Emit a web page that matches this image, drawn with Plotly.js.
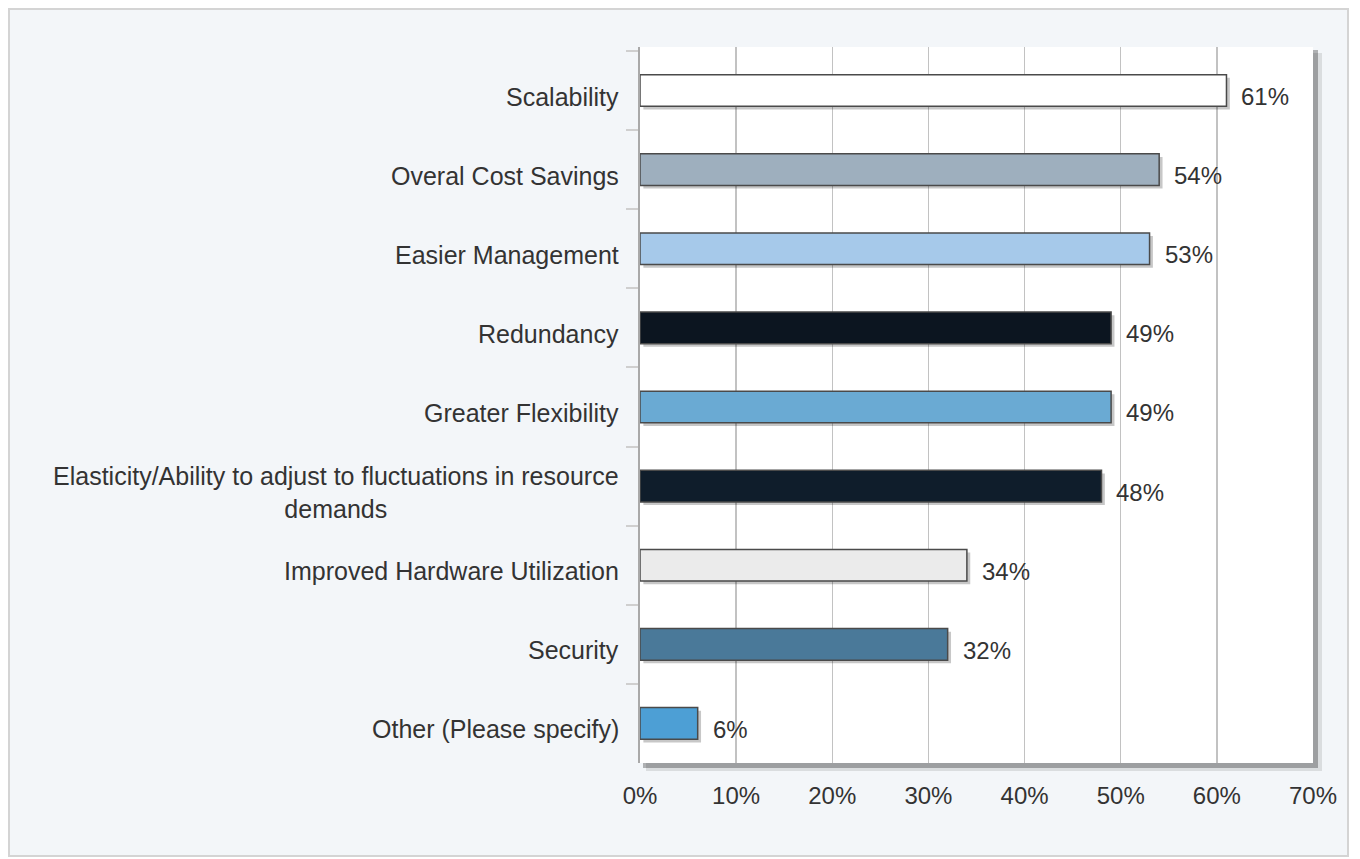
<!DOCTYPE html>
<html>
<head>
<meta charset="utf-8">
<script src="https://cdn.plot.ly/plotly-3.0.1.min.js"></script>
<style>
  html, body { margin: 0; padding: 0; background: #ffffff; }
  #chart { width: 1360px; height: 859px; }
</style>
</head>
<body>
<div id="chart"></div>
<script>
// ---- data ----
const categories = [
  "Scalability",
  "Overal Cost Savings",
  "Easier Management",
  "Redundancy",
  "Greater Flexibility",
  "Elasticity/Ability to adjust to fluctuations in resource<br>demands",
  "Improved Hardware Utilization",
  "Security",
  "Other (Please specify)"
];
const values = [61, 54, 53, 49, 49, 48, 34, 32, 6];
const xTickValues = [0, 10, 20, 30, 40, 50, 60, 70];
const xTickLabels = ["0%", "10%", "20%", "30%", "40%", "50%", "60%", "70%"];

// ---- styles ----
const barColors = [
  "#ffffff", "#9eafbe", "#a6c9ea", "#0c1520", "#6aaad3",
  "#0f1d2b", "#ebebeb", "#4a7999", "#4d9fd5"
];

const L = 640, R = 1313, T = 47, B = 763;
const px2x = p => (p - L) / (R - L);
const px2y = p => (B - p) / (B - T);

const textColor = "#333333";
const fontFam = "Liberation Sans, Arial, sans-serif";

const shadowTrace = {
  type: "bar", orientation: "h",
  y: categories, x: values, base: 0.35,
  width: 0.40, offset: -0.16,
  marker: { color: "rgba(0,0,0,0.22)", line: { width: 0 } },
  hoverinfo: "skip", showlegend: false
};
const barTrace = {
  type: "bar", orientation: "h",
  y: categories, x: values,
  width: 0.40,
  marker: { color: barColors, line: { color: "#4a4a4a", width: 1.5 } },
  hoverinfo: "x+y", showlegend: false
};

const annotations = [];
categories.forEach((c, i) => {
  annotations.push({
    xref: "paper", yref: "y", x: 0, y: c, xanchor: "right", yanchor: "middle",
    xshift: -19, yshift: -6, text: c, showarrow: false, align: "center",
    font: { family: fontFam, size: 25, color: textColor }
  });
  annotations.push({
    xref: "x", yref: "y", x: values[i], y: c, xanchor: "left", yanchor: "middle",
    xshift: 13, yshift: -6, text: values[i] + "%", showarrow: false,
    font: { family: fontFam, size: 24, color: textColor }
  });
});

const shapes = [
  { type: "rect", xref: "paper", yref: "paper", layer: "below",
    x0: px2x(9), x1: px2x(1348), y0: px2y(856), y1: px2y(9),
    fillcolor: "#f3f6f9", line: { color: "#d4d4d4", width: 2 } },
  { type: "rect", xref: "paper", yref: "paper", layer: "below",
    x0: px2x(646), x1: px2x(1322), y0: px2y(771), y1: px2y(53),
    fillcolor: "rgba(0,0,0,0.10)", line: { width: 0 } },
  { type: "rect", xref: "paper", yref: "paper", layer: "below",
    x0: px2x(643), x1: px2x(1318), y0: px2y(768), y1: px2y(50),
    fillcolor: "rgba(0,0,0,0.28)", line: { width: 0 } },
  { type: "rect", xref: "paper", yref: "paper", layer: "below",
    x0: 0, x1: 1, y0: 0, y1: 1,
    fillcolor: "#ffffff", line: { width: 0 } }
];

const layout = {
  width: 1360, height: 859,
  margin: { l: L, r: 1360 - R, t: T, b: 859 - B, pad: 0 },
  paper_bgcolor: "#ffffff",
  plot_bgcolor: "rgba(0,0,0,0)",
  barmode: "overlay",
  font: { family: fontFam, color: textColor },
  xaxis: {
    range: [0, 70], tickmode: "array", tickvals: xTickValues, ticktext: xTickLabels,
    showgrid: true, gridcolor: "#c2c2c2", gridwidth: 1.5,
    zeroline: false, showline: false, ticks: "",
    ticklabelstandoff: 16,
    tickfont: { family: fontFam, size: 24, color: textColor },
    fixedrange: true
  },
  yaxis: {
    type: "category", categoryorder: "array", categoryarray: categories,
    range: [8.5, -0.55],
    showticklabels: false, showgrid: false, zeroline: false,
    showline: true, linecolor: "#a9a9a9", linewidth: 2,
    ticks: "outside", tickson: "boundaries", ticklen: 12,
    tickcolor: "#cfcfcf", tickwidth: 2,
    fixedrange: true
  },
  shapes: shapes,
  annotations: annotations
};

Plotly.newPlot("chart", [shadowTrace, barTrace], layout, { displayModeBar: false, staticPlot: true });
</script>
</body>
</html>
